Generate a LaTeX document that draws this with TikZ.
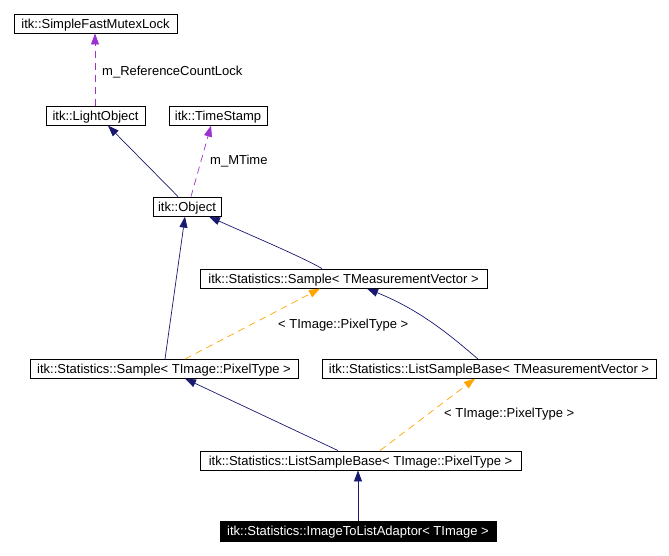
\documentclass[tikz,border=0pt]{standalone}
\usepackage{fontspec}
\setmainfont{Liberation Sans}
\usetikzlibrary{arrows.meta}
\definecolor{navy}{HTML}{191970}
\definecolor{purp}{HTML}{9A32CD}
\definecolor{orng}{HTML}{FFA500}
\begin{document}
\begin{tikzpicture}[x=1pt,y=-1pt,
  cls/.style={draw=black,fill=white,line width=0.9pt,inner sep=0pt,font=\fontsize{13}{15}\selectfont,minimum height=19pt,text height=9.4pt,text depth=0pt},
  sel/.style={cls,fill=black,text=white},
  inh/.style={draw=navy,line width=0.7pt,-{Triangle[length=11pt,width=8pt]}},
  use/.style={draw=purp,line width=0.7pt,dash pattern=on 7pt off 5pt,-{Triangle[length=11pt,width=8pt]}},
  tmpl/.style={draw=orng,line width=0.7pt,dash pattern=on 7pt off 5pt,-{Triangle[length=11pt,width=8pt]}},
  lbl/.style={font=\fontsize{13}{15}\selectfont,inner sep=0pt,anchor=west,text height=9.4pt,text depth=0pt}]
\useasboundingbox (0,0) rectangle (669,555);
\node[cls,minimum width=163pt] (mutex) at (95.5,23.5) {itk::SimpleFastMutexLock};
\node[cls,minimum width=99pt] (light) at (95.5,115.5) {itk::LightObject};
\node[cls,minimum width=98pt] (stamp) at (218,115.5) {itk::TimeStamp};
\node[cls,minimum width=68pt] (obj) at (187,206.5) {itk::Object};
\node[cls,minimum width=287pt] (smv) at (343.5,278.5) {itk::Statistics::Sample< TMeasurementVector >};
\node[cls,minimum width=268pt] (spt) at (164,369) {itk::Statistics::Sample< TImage::PixelType >};
\node[cls,minimum width=334pt] (lmv) at (489,369) {itk::Statistics::ListSampleBase< TMeasurementVector >};
\node[cls,minimum width=321pt] (lpt) at (360.5,460.5) {itk::Statistics::ListSampleBase< TImage::PixelType >};
\node[sel,minimum width=276pt,minimum height=20pt] (adapt) at (358,531) {itk::Statistics::ImageToListAdaptor< TImage >};

\draw[use] (light.north -| 95,0) -- (mutex.south -| 95,0);
\node[lbl] (l1) at (102,71) {m\_ReferenceCountLock};
\draw[inh] (obj.north -| 178,0) -- (108,125.6);
\draw[use] (obj.north -| 191,0) -- (211,125.6);
\node[lbl] (l2) at (210,160) {m\_MTime};
\draw[inh] (smv.north -| 322,0) .. controls (300,256) and (250,235) .. (209,216.6);
\draw[inh] (spt.north -| 165,0) -- (185,216.6);
\draw[tmpl] (spt.north -| 185,0) -- (320,288.6);
\node[lbl] (l3) at (278,324) {< TImage::PixelType >};
\draw[inh] (lmv.north -| 478,0) .. controls (450,335) and (420,310) .. (367,288.6);
\draw[inh] (lpt.north -| 338,0) -- (185,378.6);
\draw[tmpl] (lpt.north -| 380,0) -- (475,378.6);
\node[lbl] (l4) at (444,413) {< TImage::PixelType >};
\draw[inh] (adapt.north -| 358,0) -- (lpt.south -| 358,0);
\end{tikzpicture}
\end{document}
